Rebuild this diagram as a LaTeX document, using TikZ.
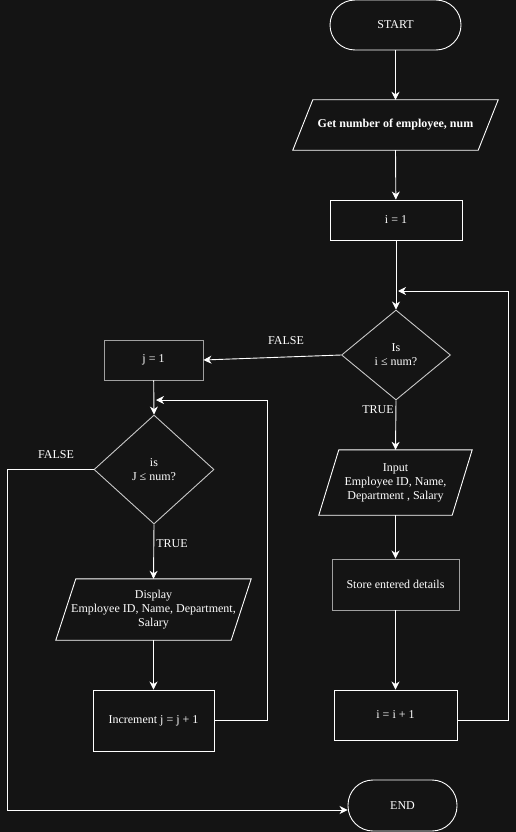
\documentclass[tikz,border=0pt]{standalone}
\usepackage{fontspec}
\setmainfont{Liberation Serif}
\usetikzlibrary{shapes.geometric,arrows.meta}
\definecolor{bg}{HTML}{141414}
\definecolor{softedge}{HTML}{C8C8C8}
\definecolor{grayedge}{HTML}{A0A0A0}
\newcommand\paraDraw[1]{\draw[pbord] ([xshift=20pt]#1.north west) -- (#1.north east) -- ([xshift=-20pt]#1.south east) -- (#1.south west) -- cycle;}
\tikzset{
  base/.style={text=white, align=center, inner sep=0pt, font=\fontsize{12}{14}\selectfont},
  proc/.style={base, draw=white, line width=0.9pt, rectangle},
  term/.style={proc, rounded corners=25pt},
  dec/.style={base, draw=softedge, line width=0.9pt, diamond},
  io/.style={base, rectangle},
  pbord/.style={draw=white, line width=0.9pt},
  flow/.style={draw=white, line width=0.9pt, -{Stealth[length=8pt,width=8pt,inset=2.5pt]}},
  lbl/.style={text=white, inner sep=0pt, font=\fontsize{12}{14}\selectfont}
}
\begin{document}
\begin{tikzpicture}[x=1pt,y=-1pt]
\fill[bg] (0,0) rectangle (516,832);
\useasboundingbox (0,0) rectangle (516,832);

% right column
\node[term, minimum width=131pt, minimum height=50pt] (start) at (395.5,25) {START};
\node[io, minimum width=205pt, minimum height=50pt] (get) at (395.5,125) {\bfseries Get number of employee, num};
\paraDraw{get}
\node[proc, minimum width=132pt, minimum height=40pt] (i1) at (396,220) {i = 1};
\node[dec, minimum width=109pt, minimum height=90pt] (d1) at (396,355) {Is\\ i ≤ num?};
\node[io, minimum width=153pt, minimum height=65pt] (inp) at (395.5,482.5) {Input\\ Employee ID, Name,\\ Department , Salary};
\paraDraw{inp}
\node[proc, draw=grayedge, minimum width=127pt, minimum height=51pt] (store) at (395.5,584.5) {Store entered details};
\node[proc, minimum width=123pt, minimum height=50pt] (inci) at (395.5,715) {i = i + 1};
\node[term, minimum width=109pt, minimum height=51pt] (endn) at (402.5,805.5) {END};

% left column
\node[proc, draw=grayedge, minimum width=99pt, minimum height=40pt] (j1) at (153.5,360) {j = 1};
\node[dec, minimum width=120pt, minimum height=109pt] (d2) at (154,469.5) {is\\ J ≤ num?};
\node[io, minimum width=195pt, minimum height=61pt] (disp) at (153.5,609.5) {Display\\ Employee ID, Name, Department,\\ Salary};
\paraDraw{disp}
\node[proc, minimum width=121pt, minimum height=61pt] (incj) at (153.5,720.5) {Increment j = j + 1};

% labels
\node[lbl] (lf1) at (286,341) {FALSE};
\node[lbl] (lt1) at (378,410) {TRUE};
\node[lbl] (lf2) at (56,455) {FALSE};
\node[lbl] (lt2) at (172,544) {TRUE};

% helper coordinates
\coordinate (mi) at (398,291);
\coordinate (ri) at (508,291);
\coordinate (mj) at (156,400);
\coordinate (rj) at (267,400);
\coordinate (lf) at (7,810);

% connectors
\draw[flow] (start) -- (get);
\draw[flow] (get.south) -- (i1);
\draw[flow] (i1) -- (d1.north);
\draw[flow] ([yshift=-5pt]inci.east) -| (ri) -- (mi);
\draw[flow] (d1.west) -- (j1.east);
\draw[flow] (d1.south) -- (inp.north);
\draw[flow] (inp.south) -- (store);
\draw[flow] (store) -- (inci);
\draw[flow] (j1) -- (d2.north);
\draw[flow] (incj.east) -| (rj) -- (mj);
\draw[flow] (d2.west) -| (lf) -- (lf -| endn.west);
\draw[flow] (d2.south) -- (disp.north);
\draw[flow] (disp.south) -- (incj);
\end{tikzpicture}
\end{document}
